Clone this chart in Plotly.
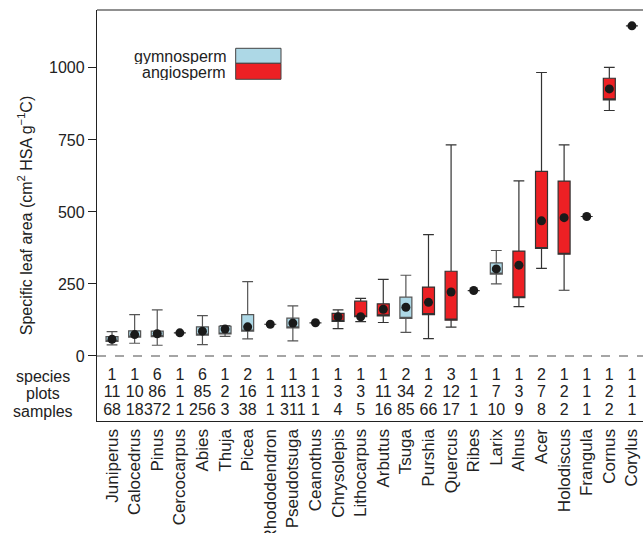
import plotly.graph_objects as go

genera = ["Juniperus", "Calocedrus", "Pinus", "Cercocarpus", "Abies", "Thuja", "Picea",
          "Rhododendron", "Pseudotsuga", "Ceanothus", "Chrysolepis", "Lithocarpus", "Arbutus",
          "Tsuga", "Purshia", "Quercus", "Ribes", "Larix", "Alnus", "Acer", "Holodiscus",
          "Frangula", "Cornus", "Corylus"]
group = ["G", "G", "G", "A", "G", "G", "G", "A", "G", "A", "A", "A", "A",
         "G", "A", "A", "A", "G", "A", "A", "A", "A", "A", "A"]
lower = [38, 44, 37, 80, 39, 68, 59, 110, 52, 115, 95, 119, 116, 82, 60, 100, 227, 250, 171, 304, 228, 484, 852, 1146]
q1 = [50, 65, 67, 80, 72, 76, 86, 110, 97, 115, 120, 136, 139, 130, 143, 124, 227, 284, 202, 373, 353, 484, 889, 1146]
q3 = [67, 87, 86, 80, 101, 103, 143, 110, 131, 115, 148, 190, 181, 204, 239, 294, 227, 323, 364, 641, 607, 484, 964, 1146]
upper = [84, 143, 160, 80, 140, 105, 258, 110, 174, 115, 160, 200, 266, 280, 421, 733, 227, 366, 608, 984, 733, 484, 1002, 1146]
center = [58, 74, 77, 80, 86, 93, 101, 110, 114, 115, 136, 136, 162, 169, 186, 222, 227, 302, 315, 469, 480, 484, 927, 1146]
species = [1, 1, 6, 1, 6, 1, 2, 1, 1, 1, 1, 1, 1, 2, 1, 3, 1, 1, 1, 2, 1, 1, 1, 1]
plots = [11, 10, 86, 1, 85, 2, 16, 1, 113, 1, 3, 3, 11, 34, 2, 12, 1, 7, 3, 7, 2, 1, 2, 1]
samples = [68, 18, 372, 1, 256, 3, 38, 1, 311, 1, 4, 5, 16, 85, 66, 17, 1, 10, 9, 8, 2, 1, 2, 1]
row_labels = ["species", "plots", "samples"]
y_ticks = [0, 250, 500, 750, 1000]

GYM = "#ADD8E6"
ANG = "#ED2024"
FONT = "Liberation Sans, Arial, sans-serif"

fig = go.Figure()

for code, fill, edge in [("G", GYM, "#555555"), ("A", ANG, "#333333")]:
    idx = [i for i, g in enumerate(group) if g == code]
    fig.add_trace(go.Box(
        x=[genera[i] for i in idx],
        q1=[q1[i] for i in idx],
        median=[q1[i] for i in idx],
        q3=[q3[i] for i in idx],
        lowerfence=[lower[i] for i in idx],
        upperfence=[upper[i] for i in idx],
        fillcolor=fill,
        line=dict(color=edge, width=1.2),
        width=0.53,
        whiskerwidth=0.9,
        boxpoints=False,
        showlegend=False,
        hoverinfo="skip",
    ))

fig.add_trace(go.Scatter(
    x=genera, y=center, mode="markers",
    marker=dict(size=9, color="#1a1a1a"),
    showlegend=False, hoverinfo="skip",
))

row_y = [-70, -130, -192]
for vals, yy in zip([species, plots, samples], row_y):
    fig.add_trace(go.Scatter(
        x=genera, y=[yy] * len(genera), mode="text",
        text=[str(v) for v in vals],
        textfont=dict(size=16, color="#222222", family=FONT),
        showlegend=False, hoverinfo="skip",
    ))

for lab, yy in zip(row_labels, row_y):
    fig.add_annotation(x=(43 - 97) / 546, xref="paper", y=yy, yref="y",
                       text=lab, showarrow=False, xanchor="center", yanchor="middle",
                       font=dict(size=16, color="#222222", family=FONT))

shapes = [
    dict(type="line", xref="paper", yref="y", x0=0, x1=1, y0=0, y1=0,
         line=dict(color="#888888", width=1.5, dash="dash"), layer="below"),
    dict(type="line", xref="paper", yref="paper", x0=0, x1=1, y0=1, y1=1,
         line=dict(color="#222222", width=1.2)),
    dict(type="rect", xref="paper", yref="paper", x0=0.254, x1=0.337, y0=0.8703, y1=0.9068,
         fillcolor=GYM, line=dict(color="#444444", width=1)),
    dict(type="rect", xref="paper", yref="paper", x0=0.254, x1=0.337, y0=0.8314, y1=0.8703,
         fillcolor=ANG, line=dict(color="#444444", width=1)),
]
fig.add_annotation(x=0.240, xref="paper", y=0.889, yref="paper", text="gymnosperm",
                   showarrow=False, xanchor="right", yanchor="middle", height=16,
                   font=dict(size=16, color="#222222", family=FONT))
fig.add_annotation(x=0.240, xref="paper", y=0.850, yref="paper", text="angiosperm",
                   showarrow=False, xanchor="right", yanchor="middle", height=16,
                   font=dict(size=16, color="#222222", family=FONT))

fig.update_layout(
    width=643, height=533,
    margin=dict(l=97, r=0, t=10, b=112, autoexpand=False),
    paper_bgcolor="white", plot_bgcolor="white",
    boxmode="overlay",
    shapes=shapes,
    font=dict(family=FONT, size=16, color="#222222"),
    xaxis=dict(type="category", categoryorder="array", categoryarray=genera,
               range=[-0.665, 23.49], showline=True, linecolor="#222222", linewidth=1.2,
               ticks="", tickangle=-90, showgrid=False, zeroline=False, automargin=False,
               tickfont=dict(size=17, family=FONT, color="#222222")),
    yaxis=dict(range=[-226, 1201], tickvals=y_ticks, ticktext=[str(v) for v in y_ticks],
               ticks="outside", ticklen=8, tickcolor="#222222", showline=True,
               linecolor="#222222", linewidth=1.2, showgrid=False, zeroline=False,
               automargin=False,
               tickfont=dict(size=16, family=FONT, color="#222222"),
               title=dict(text="Specific leaf area (cm<sup>2</sup> HSA g<sup>−1</sup>C)",
                          font=dict(size=16, family=FONT, color="#222222"), standoff=12)),
)

fig.write_html("out.html", config={"displayModeBar": False, "staticPlot": True},
               post_script="document.body.style.margin='0';document.body.style.overflow='hidden';")
